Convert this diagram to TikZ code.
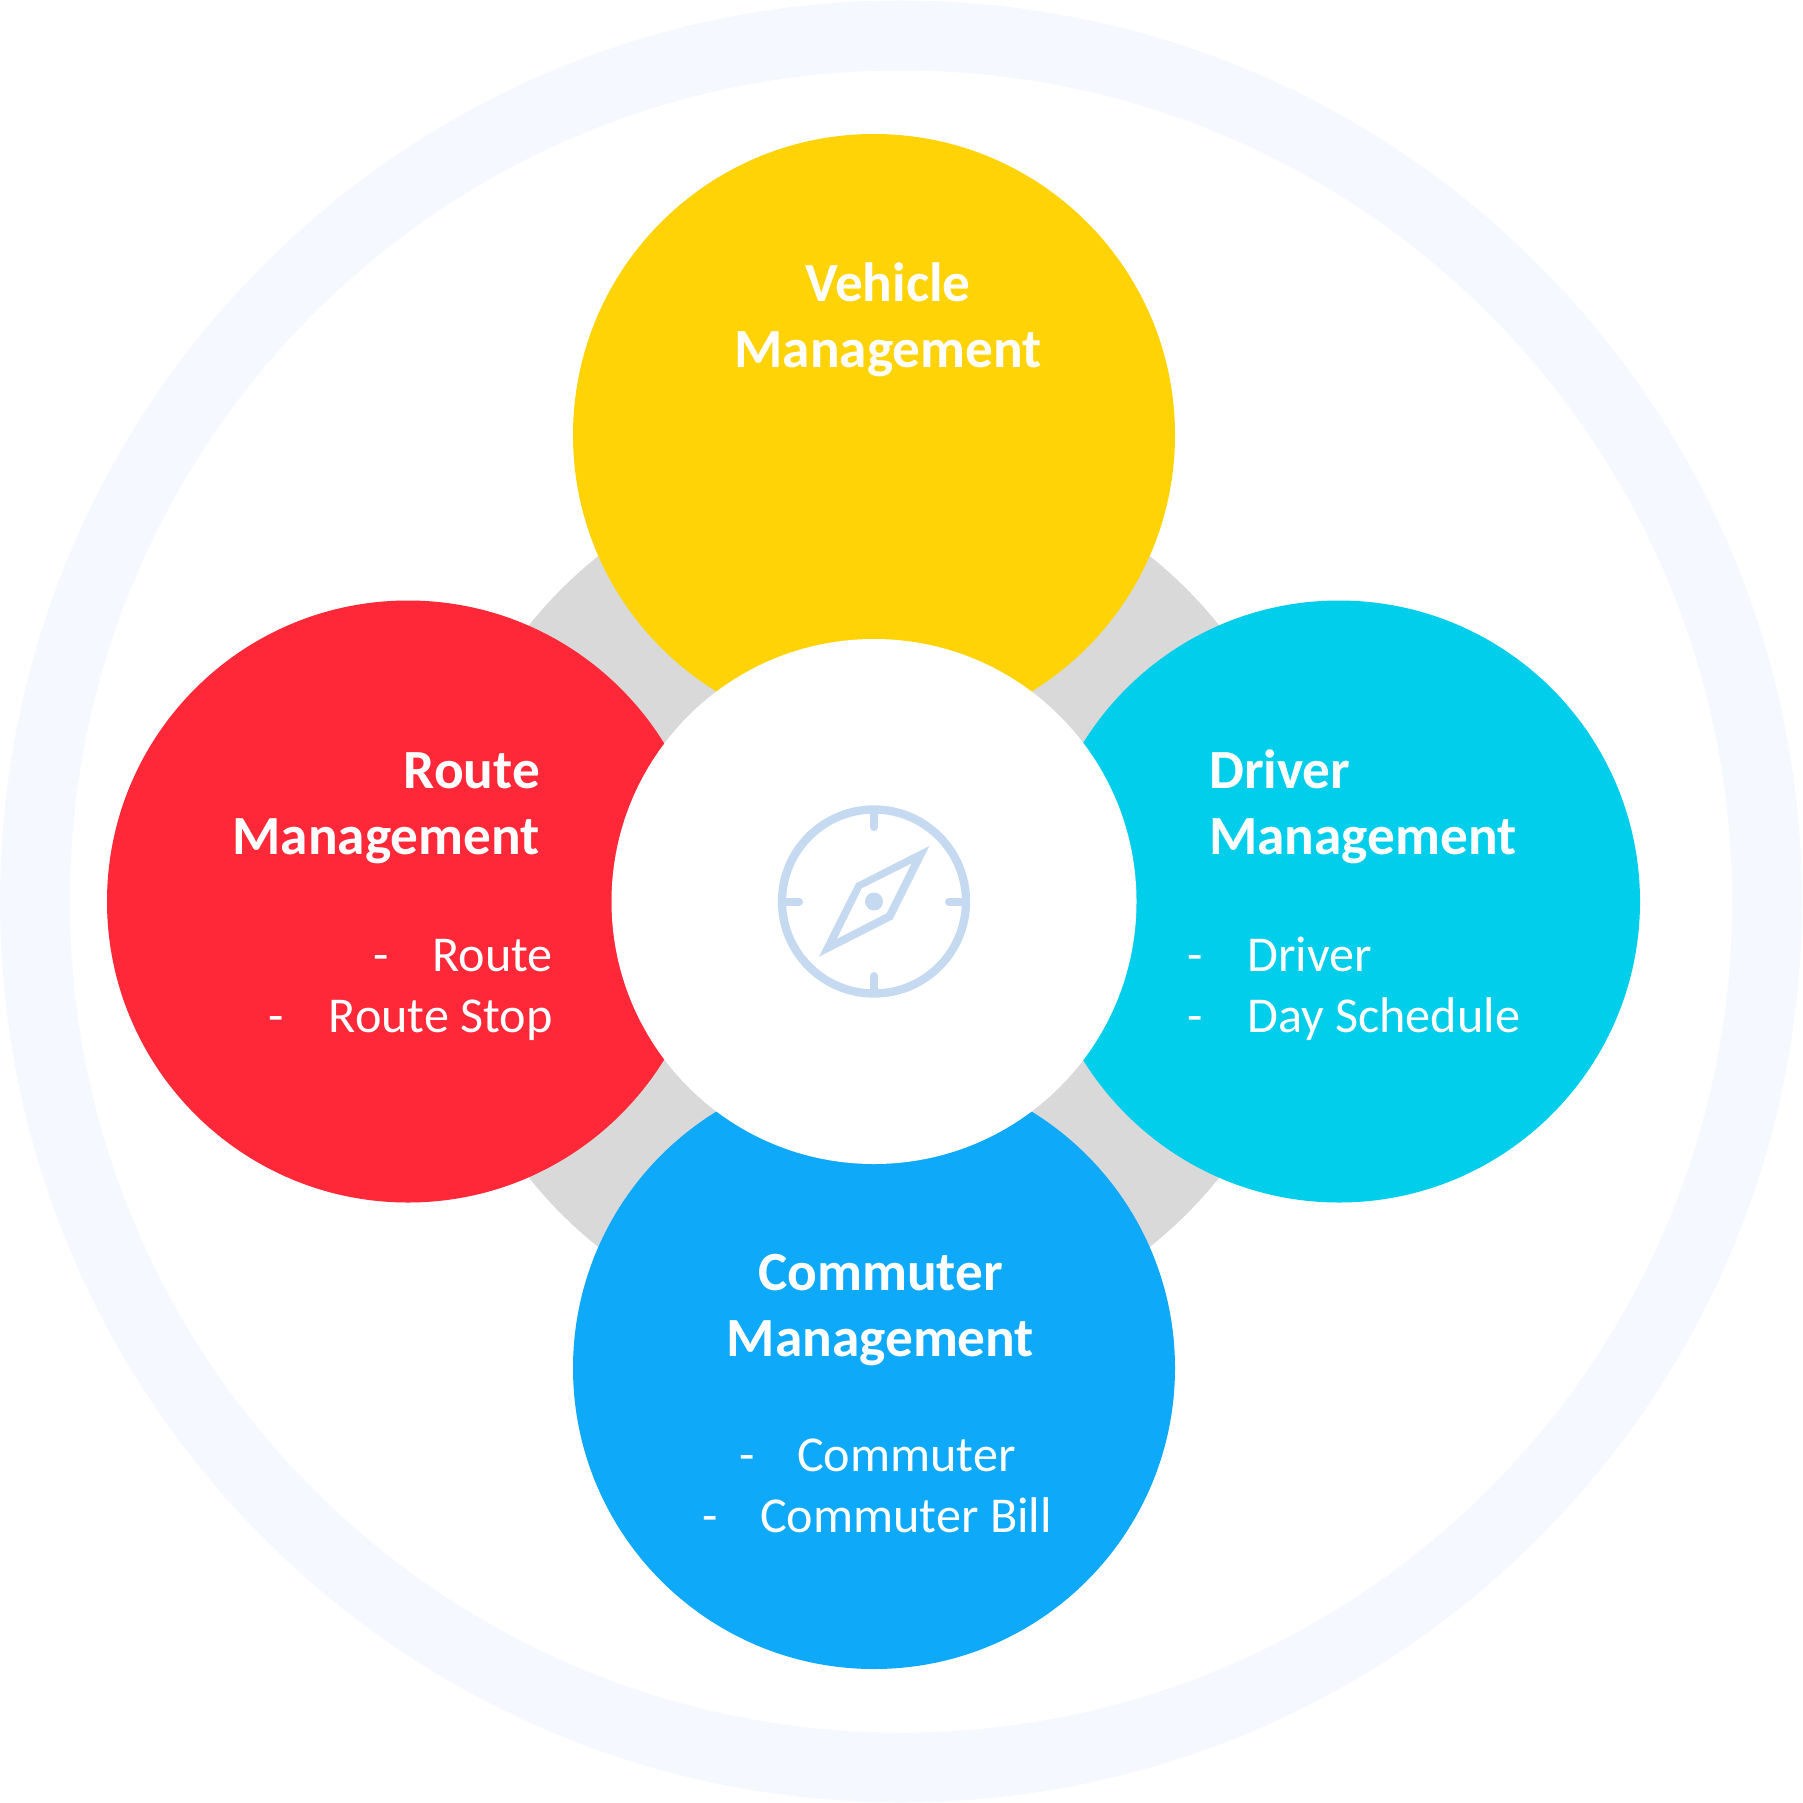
\documentclass[tikz,border=0pt]{standalone}
\usepackage{fontspec}
\setmainfont{Carlito}
\definecolor{ringc}{HTML}{F5F9FF}
\definecolor{greyc}{HTML}{D9D9D9}
\definecolor{yellowc}{HTML}{FFD305}
\definecolor{redc}{HTML}{FF2838}
\definecolor{cyanc}{HTML}{00CEEB}
\definecolor{bluec}{HTML}{0EA9F9}
\definecolor{iconc}{HTML}{C5D9F1}
\newcommand{\pxfont}[1]{\fontsize{#1}{#1}\selectfont}
\tikzset{
  x=1pt,y=-1pt,
  disc/.style={circle,draw=none,minimum size=602pt,inner sep=0pt,outer sep=0pt},
  ttl/.style={text=white,inner sep=0pt,font=\pxfont{55.3}\bfseries},
  sub/.style={text=white,inner sep=0pt,font=\pxfont{50.2}},
  tick/.style={draw=iconc,line width=8pt,line cap=round}
}
\begin{document}
\begin{tikzpicture}
\useasboundingbox (0,0) rectangle (1802,1803);
\fill[ringc,even odd rule] (901,901.5) circle[radius=901] (901,901.5) circle[radius=831];
\node[circle,fill=greyc,minimum size=884pt,inner sep=0pt] (back) at (874,901.5) {};
\node[disc,fill=yellowc] (veh) at (874,435) {};
\node[disc,fill=redc] (rou) at (408,901.5) {};
\node[disc,fill=cyanc] (dri) at (1339,901.5) {};
\node[disc,fill=bluec] (com) at (874,1368) {};
\node[circle,fill=white,minimum size=525pt,inner sep=0pt] (hub) at (874,901.5) {};
% compass icon
\draw[iconc,line width=8.3pt] (874,901.5) circle[radius=92];
\draw[tick] (874,810) -- (874,827);
\draw[tick] (874,993) -- (874,976);
\draw[tick] (782,901.5) -- (799,901.5);
\draw[tick] (966,901.5) -- (949,901.5);
\fill[iconc,even odd rule] (929.3,846) -- (892.7,919.3) -- (819,956.7) -- (856,883.3) -- cycle
  (911.7,863.3) -- (886.7,913.3) -- (836.7,939) -- (861.7,888.3) -- cycle;
\fill[iconc] (874,901.5) circle[radius=9];
% titles
\node[ttl,anchor=base] (t1a) at (888,301.7) {Vehicle};
\node[ttl,anchor=base] (t1b) at (888,367.7) {Management};
\node[ttl,anchor=base east] (t2a) at (540,788.2) {Route};
\node[ttl,anchor=base east] (t2b) at (540,854.2) {Management};
\node[ttl,anchor=base west] (t3a) at (1209,788.2) {Driver};
\node[ttl,anchor=base west] (t3b) at (1209,854.2) {Management};
\node[ttl,anchor=base] (t4a) at (880.5,1290.5) {Commuter};
\node[ttl,anchor=base] (t4b) at (880.5,1356.5) {Management};
% lists
\node[sub,anchor=base west] (d2a) at (373,971) {-};
\node[sub,anchor=base east] (s2a) at (553,971) {Route};
\node[sub,anchor=base west] (d2b) at (268.5,1032) {-};
\node[sub,anchor=base east] (s2b) at (553,1032) {Route Stop};
\node[sub,anchor=base west] (d3a) at (1187.5,971) {-};
\node[sub,anchor=base west] (s3a) at (1247,971) {Driver};
\node[sub,anchor=base west] (d3b) at (1187.5,1032) {-};
\node[sub,anchor=base west] (s3b) at (1247,1032) {Day Schedule};
\node[sub,anchor=base west] (d4a) at (739,1471.5) {-};
\node[sub,anchor=base west] (s4a) at (797,1471.5) {Commuter};
\node[sub,anchor=base west] (d4b) at (702,1532.5) {-};
\node[sub,anchor=base west] (s4b) at (760,1532.5) {Commuter Bill};
\end{tikzpicture}
\end{document}
